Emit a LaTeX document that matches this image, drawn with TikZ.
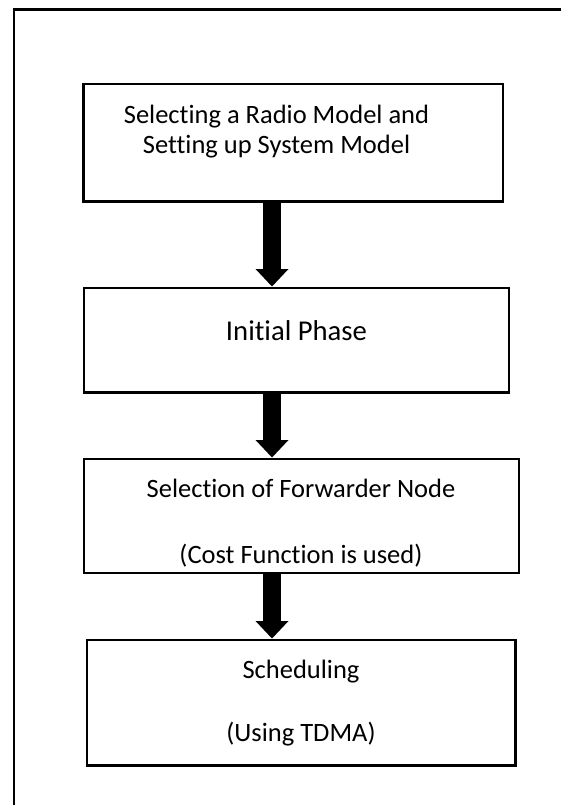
\documentclass[tikz,border=0pt]{standalone}
\usepackage{fontspec}
\setmainfont{Carlito}[Ligatures={NoCommon}]
\usetikzlibrary{arrows.meta}

\begin{document}
\begin{tikzpicture}[
			x=1pt, y=-1pt,
			stage/.style={rectangle,draw,line width=2.2pt,inner sep=0pt,outer sep=0pt,anchor=north west},
			caption/.style={anchor=base,inner sep=0pt,align=center,font=\fontsize{26.5}{30}\selectfont},
			flow/.style={line width=18pt,-{Triangle[width=33pt,length=17.5pt,line width=0pt]},shorten >=1.5pt},
			]
			\useasboundingbox (0,0) rectangle (560,805);
			\draw [line width=2.7pt] (14,806) -- (14,9.5) -- (561,9.5);
			\node [stage,minimum width=419.5pt,minimum height=117.5pt] (radio) at (83.5,84) {};
			\node [stage,minimum width=425pt,minimum height=104.5pt] (initial) at (84,288) {};
			\node [stage,minimum width=435pt,minimum height=114pt] (forwarder) at (84,459) {};
			\node [stage,minimum width=428.5pt,minimum height=125.5pt] (sched) at (87,640) {};
			\node [caption] (radiotxt) at (276.5,153.7) {Selecting a Radio Model and\\Setting up System Model};
			\node [caption,font=\fontsize{28.7}{34}\selectfont] (initialtxt) at (296.5,340.5) {Initial Phase};
			\node [caption] (forwardertxt) at (301,563) {Selection of Forwarder Node\\[36pt](Cost Function is used)};
			\node [caption] (schedtxt) at (301,741) {Scheduling\\[32.3pt](Using TDMA)};
			\coordinate (ax) at (272,0);
			\draw [flow] (radio.south -| ax) -- (initial.north -| ax);
			\draw [flow] (initial.south -| ax) -- (forwarder.north -| ax);
			\draw [flow] (forwarder.south -| ax) -- (sched.north -| ax);
		\end{tikzpicture}
\end{document}
